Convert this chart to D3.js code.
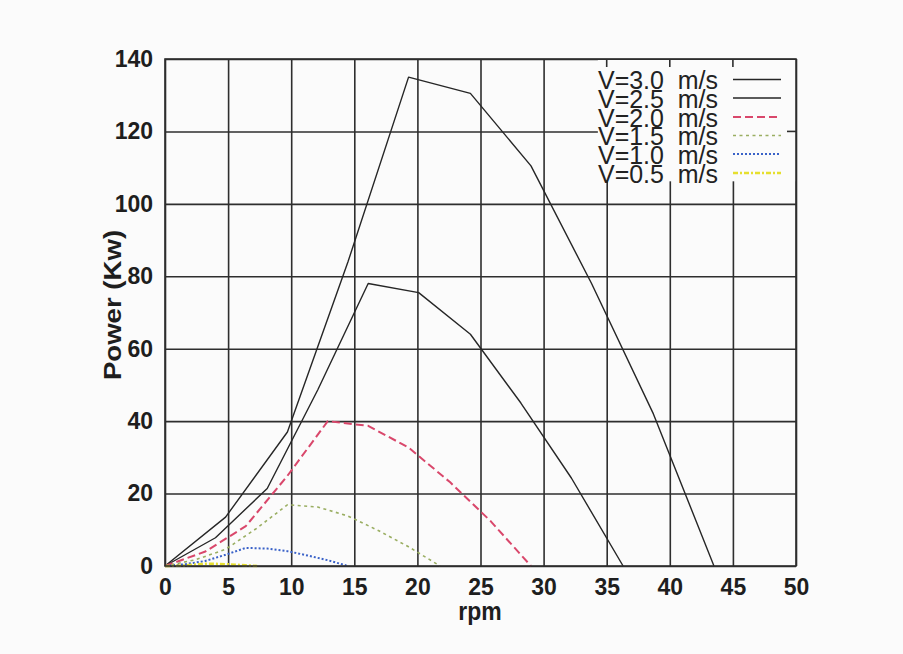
<!DOCTYPE html>
<html>
<head>
<meta charset="utf-8">
<script src="https://cdn.jsdelivr.net/npm/d3@7"></script>
<style>
  body { margin: 0; background: #fbfbfb; }
  svg { display: block; font-family: "Liberation Sans", Arial, sans-serif; }
</style>
</head>
<body>
<div id="chart"></div>
<script>
// values (rpm, Power kW) for each wind speed
const rpm30 = [0, 4.8, 9.7, 14.5, 19.3, 24.2, 29.0, 33.8, 38.7, 43.5];
const pow30 = [0, 13.5, 37, 84, 135, 130.5, 110.5, 78, 42, 0];
const rpm25 = [0, 4.0, 8.1, 12.1, 16.1, 20.1, 24.2, 28.2, 32.2, 36.3];
const pow25 = [0, 7.8, 21.4, 48.6, 78, 75.5, 64, 45, 24.3, 0];
const rpm20 = [0, 3.2, 6.4, 9.7, 12.9, 16.1, 19.3, 22.6, 25.8, 29.0];
const pow20 = [0, 4.0, 11.0, 24.9, 40, 38.7, 32.7, 23.1, 12.4, 0];
const rpm15 = [0, 2.4, 4.8, 7.3, 9.7, 12.1, 14.5, 16.9, 19.3, 21.8];
const pow15 = [0, 1.7, 4.6, 10.5, 16.9, 16.3, 13.8, 9.8, 5.3, 0];
const rpm10 = [0, 1.6, 3.2, 4.8, 6.4, 8.1, 9.7, 11.3, 12.9, 14.5];
const pow10 = [0, 0.5, 1.4, 3.1, 5.0, 4.8, 4.1, 2.9, 1.6, 0];
const rpm05 = [0, 0.8, 1.6, 2.4, 3.2, 4.0, 4.8, 5.6, 6.4, 7.3];
const pow05 = [0, 0.06, 0.17, 0.39, 0.63, 0.6, 0.51, 0.36, 0.19, 0];

const seriesNames = ["V=3.0  m/s", "V=2.5  m/s", "V=2.0  m/s", "V=1.5  m/s", "V=1.0  m/s", "V=0.5  m/s"];
const xTicks = [0, 5, 10, 15, 20, 25, 30, 35, 40, 45, 50];
const yTicks = [0, 20, 40, 60, 80, 100, 120, 140];

const styles = [
    { color: "#262626", width: 1.4, dash: null },
    { color: "#262626", width: 1.4, dash: null },
    { color: "#d9476b", width: 2, dash: "8,4" },
    { color: "#9aae62", width: 1.6, dash: "3,3.5" },
    { color: "#3a62c8", width: 2, dash: "2,2" },
    { color: "#e6df2e", width: 2.5, dash: "5,2,2,2" }
];

const series = [
    d3.zip(rpm30, pow30), d3.zip(rpm25, pow25), d3.zip(rpm20, pow20),
    d3.zip(rpm15, pow15), d3.zip(rpm10, pow10), d3.zip(rpm05, pow05)
];

const width = 903, height = 654;
const pLeft = 165, pRight = 796, pTop = 59, pBottom = 566;

const x = d3.scaleLinear().domain([0, 50]).range([pLeft, pRight]);
const y = d3.scaleLinear().domain([0, 140]).range([pBottom, pTop]);

const svg = d3.select("#chart").append("svg")
    .attr("width", width)
    .attr("height", height);

// grid + tick labels
const xAxis = svg.append("g")
    .attr("transform", "translate(0," + pBottom + ")")
    .call(d3.axisBottom(x).tickValues(xTicks).tickSize(-(pBottom - pTop)).tickPadding(13))
xAxis.select(".domain").remove();
xAxis.selectAll("line").attr("stroke", "#2e2e2e").attr("stroke-width", 1.6);
xAxis.selectAll("text")
    .attr("fill", "#1e1e1e").attr("font-size", 23).attr("font-weight", "bold")
    .attr("font-family", "Liberation Sans, Arial, sans-serif");

const yAxis = svg.append("g")
    .attr("transform", "translate(" + pLeft + ",0)")
    .call(d3.axisLeft(y).tickValues(yTicks).tickSize(-(pRight - pLeft)).tickPadding(12))
yAxis.select(".domain").remove();
yAxis.selectAll("line").attr("stroke", "#2e2e2e").attr("stroke-width", 1.6);
yAxis.selectAll("text")
    .attr("fill", "#1e1e1e").attr("font-size", 23).attr("font-weight", "bold")
    .attr("font-family", "Liberation Sans, Arial, sans-serif");

// curves
const line = d3.line()
    .x(d => x(d[0]))
    .y(d => y(d[1]));

svg.append("g").selectAll("path")
    .data(series)
    .enter()
    .append("path")
    .attr("d", d => line(d))
    .attr("fill", "none")
    .attr("stroke", (d, i) => styles[i].color)
    .attr("stroke-width", (d, i) => styles[i].width)
    .attr("stroke-dasharray", (d, i) => styles[i].dash)
    .attr("stroke-linejoin", "round");

// legend area covers the grid (opaque key)
svg.append("rect")
    .attr("x", x(34.3)).attr("y", pTop + 1)
    .attr("width", pRight - x(34.3)).attr("height", y(106.5) - pTop)
    .attr("fill", "#fbfbfb");

// small inward ticks that remain on the border under the key
svg.append("g").selectAll("line")
    .data([35, 40, 45])
    .enter().append("line")
    .attr("x1", d => x(d)).attr("x2", d => x(d))
    .attr("y1", pTop).attr("y2", pTop + 8)
    .attr("stroke", "#2e2e2e").attr("stroke-width", 1.6);
svg.append("line")
    .attr("x1", pRight - 9).attr("x2", pRight)
    .attr("y1", y(120)).attr("y2", y(120))
    .attr("stroke", "#2e2e2e").attr("stroke-width", 1.6);

// border
svg.append("rect")
    .attr("x", pLeft).attr("y", pTop)
    .attr("width", pRight - pLeft).attr("height", pBottom - pTop)
    .attr("fill", "none").attr("stroke", "#2e2e2e").attr("stroke-width", 1.6);

// legend
const rowY = [79.5, 98, 117, 135.5, 154, 173];
const key = svg.append("g");
key.selectAll("text")
    .data(seriesNames)
    .enter().append("text")
    .attr("transform", (d, i) => "translate(598," + rowY[i] + ") scale(1,1.15)")
    .attr("dy", "0.36em")
    .attr("textLength", 120)
    .attr("lengthAdjust", "spacingAndGlyphs")
    .attr("font-size", 23)
    .attr("fill", "#222")
    .style("white-space", "pre")
    .text(d => d);
key.selectAll("line")
    .data(seriesNames)
    .enter().append("line")
    .attr("x1", 733).attr("x2", 781)
    .attr("y1", (d, i) => rowY[i]).attr("y2", (d, i) => rowY[i])
    .attr("stroke", (d, i) => styles[i].color)
    .attr("stroke-width", (d, i) => styles[i].width)
    .attr("stroke-dasharray", (d, i) => styles[i].dash);

// axis titles
svg.append("text")
    .attr("transform", "translate(480,620) scale(1,1.15)")
    .attr("text-anchor", "middle")
    .attr("font-size", 23).attr("font-weight", "bold").attr("fill", "#1e1e1e")
    .text("rpm");

svg.append("text")
    .attr("transform", "translate(113,305) rotate(-90) scale(1.2,1)")
    .attr("text-anchor", "middle")
    .attr("dy", "0.36em")
    .attr("font-size", 23).attr("font-weight", "bold").attr("fill", "#1e1e1e")
    .text("Power (Kw)");
</script>
</body>
</html>
